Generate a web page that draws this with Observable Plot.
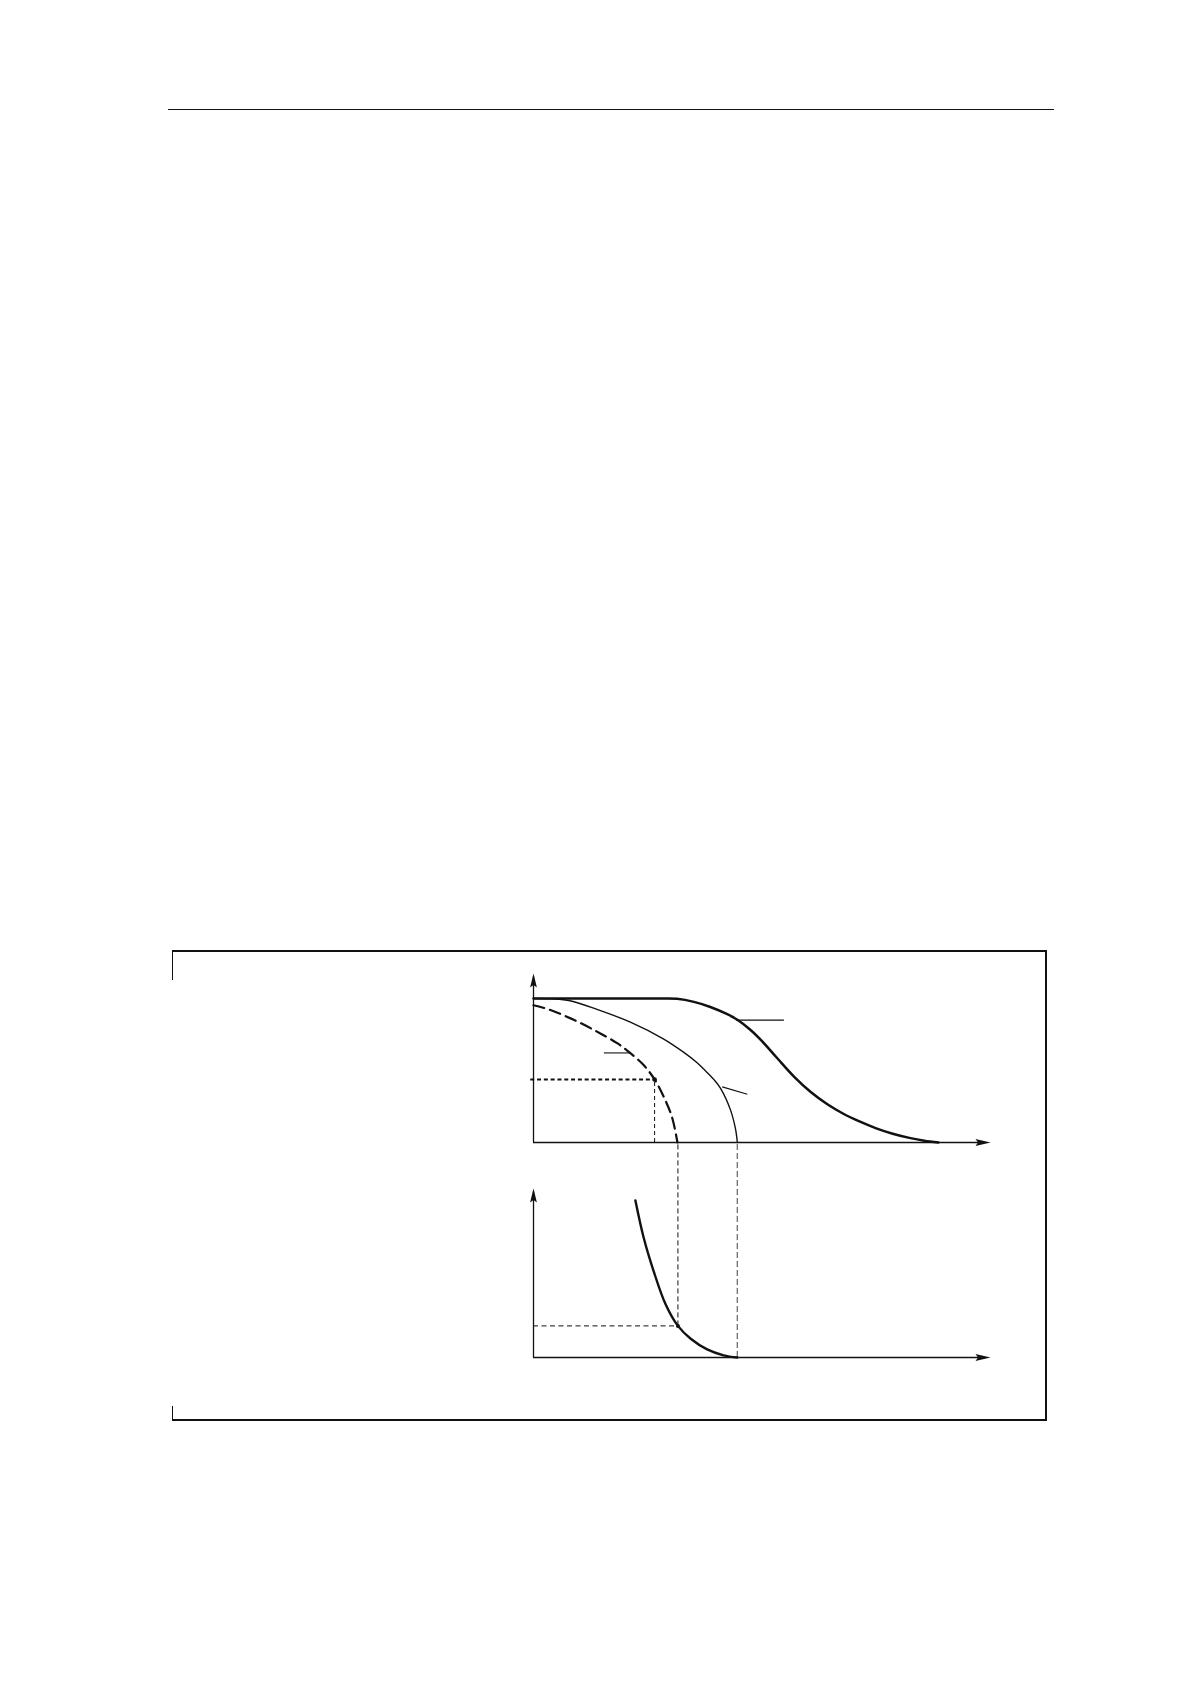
<!DOCTYPE html>
<html>
<head>
<meta charset="utf-8">
<script src="https://cdn.jsdelivr.net/npm/d3@7"></script>
<script src="https://cdn.jsdelivr.net/npm/@observablehq/plot@0.6"></script>
<style>
  html, body { margin: 0; padding: 0; background: #fff; }
  #page { position: relative; width: 1190px; height: 1684px; background: #fff; overflow: hidden; }
  .abs { position: absolute; }
</style>
</head>
<body>
<div id="page">
  <div class="abs" style="left:168px;top:109px;width:886px;border-top:1.5px solid #111;"></div>
  <div class="abs" style="left:172px;top:950px;width:875px;height:471px;box-sizing:border-box;border-top:2px solid #111;border-right:2px solid #111;border-bottom:2px solid #111;"></div>
  <div class="abs" style="left:172px;top:950px;width:1.2px;height:30px;background:#111;"></div>
  <div class="abs" style="left:172px;top:1406px;width:1.2px;height:15px;background:#111;"></div>
</div>
<script>
// ---------- data (chart units: x 0..100 to the arrow tip, y 0..100 to the arrow tip) ----------
// upper panel
const thickCurve = [
  [0, 85.2], [15, 85.2], [28, 85.2], [31.4, 85.0], [35.1, 83.2], [38.7, 80.2], [42.4, 75.9],
  [44.6, 72.6], [47.5, 66.6], [50.0, 60.0], [53.3, 50.0], [57.0, 39.0], [60.6, 30.0],
  [64.3, 22.6], [67.8, 17.0], [71.2, 12.6], [75.0, 8.4], [78.6, 5.2], [82.5, 2.6],
  [85.5, 1.1], [88.6, 0]
];
const thinCurve = [
  [0, 85.2], [4, 85.0], [8, 83.9], [13.9, 78.8], [21.2, 71.2], [28.5, 61.2], [32.9, 53.3],
  [35.8, 47.2], [37.3, 43.3], [39.5, 37.2], [40.9, 32.2], [43.1, 19.3], [44.2, 8.0], [44.6, 0]
];
const dashedCurve = [
  [0, 81.2], [3.7, 78.4], [8.8, 72.6], [13.9, 65.6], [18.3, 58.8], [21.2, 52.9],
  [24.1, 45.8], [26.5, 37.3], [28.5, 27.0], [30.3, 15.1], [31.5, 0]
];
const pointA = [{x: 26.5, y: 37.3, x0: -0.6}];
const leaders = [
  {x1: 44.4, y1: 72.4, x2: 54.8, y2: 72.4},
  {x1: 15.4, y1: 53.0, x2: 21.2, y2: 53.0},
  {x1: 41.3, y1: 32.9, x2: 46.8, y2: 28.6}
];
// lower panel
const lowerCurve = [
  [22.3, 92.9], [24.1, 71.0], [26.3, 51.0], [28.9, 31.5], [31.6, 18.7],
  [34.4, 11.1], [38.0, 4.8], [41.6, 1.3], [44.6, 0]
];
const pointB = [{x: 31.6, y: 18.7, x0: 0}];
const connectorDark = [{x: 31.6, y: 18.7}];
const connectorGray = [{x: 44.6, y: 0}];
// axes: arrow tips
const xTip = [{x: 100, y: 0}];
const yTip = [{x: 0, y: 100}];

// ---------- layout ----------
const W = 1190, H = 200, ML = 533, MR = 200, MT = 13, MB = 18;
const TOP_Y = 960, BOTTOM_Y = 1175;
const pxPerUnitY = (H - MT - MB) / 100;
const upperAxisInLowerUnits = (BOTTOM_Y - TOP_Y) / pxPerUnitY;

const arrowRight = {draw(c) { c.moveTo(0, 0); c.lineTo(-15, -3.6); c.lineTo(-12.5, 0); c.lineTo(-15, 3.6); c.closePath(); }};
const arrowUp = {draw(c) { c.moveTo(0, 0); c.lineTo(-3.4, 14); c.lineTo(0, 11.5); c.lineTo(3.4, 14); c.closePath(); }};

const ink = "#111";
const px = d => d[0], py = d => d[1];

function axesMarks() {
  return [
    Plot.ruleY([0], {x1: 0, x2: 98, stroke: ink, strokeWidth: 1.3}),
    Plot.ruleX([0], {y1: 0, y2: 98, stroke: ink, strokeWidth: 1.3}),
    Plot.dot(xTip, {x: "x", y: "y", r: 5, symbol: arrowRight, fill: ink, stroke: "none"}),
    Plot.dot(yTip, {x: "x", y: "y", r: 5, symbol: arrowUp, fill: ink, stroke: "none"})
  ];
}

const common = {
  width: W, height: H, marginLeft: ML, marginRight: MR, marginTop: MT, marginBottom: MB,
  x: {domain: [0, 100], axis: null},
  y: {domain: [0, 100], axis: null},
  style: {background: "transparent", overflow: "visible"}
};

const upper = Plot.plot({
  ...common,
  marks: [
    Plot.ruleX(pointA, {x: "x", y1: 0, y2: "y", stroke: ink, strokeWidth: 1, strokeDasharray: "4,3"}),
    Plot.ruleY(pointA, {y: "y", x1: "x0", x2: "x", stroke: ink, strokeWidth: 2, strokeDasharray: "4,2.8"}),
    Plot.line(dashedCurve, {x: px, y: py, curve: "catmull-rom", stroke: ink, strokeWidth: 2.2, strokeDasharray: "11,6"}),
    Plot.line(thinCurve, {x: px, y: py, curve: "catmull-rom", stroke: ink, strokeWidth: 1.4}),
    Plot.line(thickCurve, {x: px, y: py, curve: "catmull-rom", stroke: ink, strokeWidth: 2.5}),
    Plot.link(leaders, {x1: "x1", y1: "y1", x2: "x2", y2: "y2", stroke: ink, strokeWidth: 1.1}),
    Plot.dot(pointA, {x: "x", y: "y", r: 2.3, fill: ink, stroke: "none"}),
    ...axesMarks()
  ]
});

const lower = Plot.plot({
  ...common,
  marks: [
    Plot.ruleX(connectorGray, {x: "x", y1: "y", y2: upperAxisInLowerUnits, stroke: "#777", strokeWidth: 1.4, strokeDasharray: "6,3"}),
    Plot.ruleX(connectorDark, {x: "x", y1: "y", y2: upperAxisInLowerUnits, stroke: ink, strokeWidth: 1, strokeDasharray: "5,3"}),
    Plot.ruleY(pointB, {y: "y", x1: "x0", x2: "x", stroke: ink, strokeWidth: 1, strokeDasharray: "5,3.5"}),
    Plot.line(lowerCurve, {x: px, y: py, curve: "catmull-rom", stroke: ink, strokeWidth: 2.4}),
    Plot.dot(pointB, {x: "x", y: "y", r: 2, fill: ink, stroke: "none"}),
    ...axesMarks()
  ]
});

const page = document.getElementById("page");
for (const [svg, top] of [[upper, TOP_Y], [lower, BOTTOM_Y]]) {
  svg.style.position = "absolute";
  svg.style.left = "0px";
  svg.style.top = top + "px";
  svg.style.maxWidth = "none";
  page.appendChild(svg);
}
</script>
</body>
</html>
